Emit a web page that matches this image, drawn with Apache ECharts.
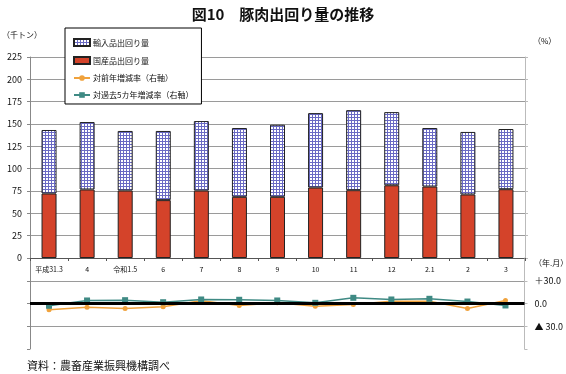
<!DOCTYPE html>
<html><head><meta charset="utf-8">
<script src="https://cdn.jsdelivr.net/npm/echarts@6/dist/echarts.min.js"></script>
<style>html,body{margin:0;padding:0;background:#fff}#c{width:566px;height:374px}</style>
</head><body><div id="c"></div>
<script>
const categories = ['平成31.3','4','令和1.5','6','7','8','9','10','11','12','2.1','2','3'];
const domestic = [72.2, 76.7, 75.5, 64.8, 75.5, 68.5, 68.5, 78.9, 75.9, 81.4, 80.0, 71.1, 77.0];
const imported = [71.1, 75.5, 66.7, 77.4, 77.8, 77.0, 80.7, 83.3, 89.6, 81.9, 65.5, 70.0, 67.4];
const yoy = [-8.4, -4.9, -6.6, -4.4, 3.5, -2.6, 1.0, -3.5, -1.3, 3.0, 3.0, -6.6, 4.0];
const vs5yr = [-3.0, 4.0, 4.4, 1.7, 5.3, 4.9, 4.0, 0.9, 7.5, 5.3, 6.2, 2.6, -2.6];
const leftTicks = [0, 25, 50, 75, 100, 125, 150, 175, 200, 225];
const rightTickLabels = {'30': '＋30.0', '0': '0.0', '-30': '▲ 30.0'};

const FONT = '"Noto Sans CJK JP", "Noto Sans", sans-serif';
const tile = document.createElement('canvas');
tile.width = 3; tile.height = 3;
const g = tile.getContext('2d');
g.fillStyle = '#ffffff'; g.fillRect(0, 0, 3, 3);
g.fillStyle = '#6a6ac4'; g.fillRect(0, 0, 3, 1); g.fillRect(0, 0, 1, 3);
const pattern = {image: tile, repeat: 'repeat'};

const chart = echarts.init(document.getElementById('c'), null, {renderer: 'canvas'});
const gridLine = '#9a9a9a';
chart.setOption({
  animation: false,
  textStyle: {fontFamily: FONT},
  title: {
    text: '図10　豚肉出回り量の推移', left: 'center', top: 2,
    textStyle: {fontSize: 15, fontWeight: 'bold', color: '#111', fontFamily: FONT}
  },
  legend: {
    orient: 'vertical', left: 65, top: 28,
    padding: [10, 8, 5, 8], itemGap: 9, itemWidth: 16, itemHeight: 7,
    backgroundColor: '#fff', borderColor: '#000', borderWidth: 1,
    textStyle: {fontSize: 8, color: '#111', fontFamily: FONT, padding: [0, 0, 0, -2]},
    data: [
      {name: '輸入品出回り量', icon: 'rect'},
      {name: '国産品出回り量', icon: 'rect'},
      '対前年増減率（右軸）', '対過去5カ年増減率（右軸）'
    ]
  },
  grid: [
    {left: 30, right: 41, top: 57, height: 201},
    {left: 30, right: 41, top: 258, height: 91}
  ],
  xAxis: [
    {type: 'category', gridIndex: 0, data: categories,
     axisLine: {lineStyle: {color: '#555'}},
     axisTick: {show: true, length: 3, lineStyle: {color: '#555'}},
     axisLabel: {fontSize: 7, color: '#111', margin: 8, interval: 0}},
    {type: 'category', gridIndex: 1, data: categories,
     axisLine: {show: false}, axisTick: {show: false}, axisLabel: {show: false}}
  ],
  yAxis: [
    {type: 'value', gridIndex: 0, min: 0, max: 225, interval: 25,
     axisLine: {show: true, lineStyle: {color: '#888'}},
     axisTick: {show: true, length: 3, lineStyle: {color: '#888'}},
     axisLabel: {fontSize: 9, color: '#111', margin: 8,
       formatter: v => leftTicks.includes(v) ? String(v) : ''},
     splitLine: {lineStyle: {color: gridLine}}},
    {type: 'value', gridIndex: 0, position: 'right', min: 0, max: 225, interval: 25,
     axisLine: {show: true, lineStyle: {color: '#bbb'}},
     axisTick: {show: true, length: 3, lineStyle: {color: '#bbb'}},
     axisLabel: {show: false}, splitLine: {show: false}},
    {type: 'value', gridIndex: 1, position: 'left', min: -60, max: 60, interval: 30,
     axisLine: {show: true, lineStyle: {color: '#888'}},
     axisTick: {show: true, length: 3, lineStyle: {color: '#888'}},
     axisLabel: {show: false},
     splitLine: {lineStyle: {color: ['rgba(0,0,0,0)', gridLine, gridLine, gridLine, 'rgba(0,0,0,0)']}}},
    {type: 'value', gridIndex: 1, position: 'right', min: -60, max: 60, interval: 30,
     axisLine: {show: true, lineStyle: {color: '#bbb'}},
     axisTick: {show: true, length: 3, lineStyle: {color: '#bbb'}},
     axisLabel: {fontSize: 9, color: '#111', margin: 10,
       formatter: v => rightTickLabels[String(v)] || ''},
     splitLine: {show: false}}
  ],
  series: [
    {name: '国産品出回り量', type: 'bar', stack: 'a', xAxisIndex: 0, yAxisIndex: 0,
     data: domestic, barWidth: 15,
     itemStyle: {color: '#d4432a', borderColor: '#222', borderWidth: 1}},
    {name: '輸入品出回り量', type: 'bar', stack: 'a', xAxisIndex: 0, yAxisIndex: 0,
     data: imported, barWidth: 15,
     itemStyle: {color: pattern, borderColor: '#222', borderWidth: 1}},
    {name: '対前年増減率（右軸）', type: 'line', xAxisIndex: 1, yAxisIndex: 3,
     data: yoy, symbol: 'circle', symbolSize: 5,
     lineStyle: {color: '#f0a23c', width: 1.5}, itemStyle: {color: '#f0a23c'},
     markLine: {silent: true, symbol: 'none', label: {show: false},
       lineStyle: {color: '#000', width: 3, type: 'solid'}, data: [{yAxis: 0}]}},
    {name: '対過去5カ年増減率（右軸）', type: 'line', xAxisIndex: 1, yAxisIndex: 3,
     data: vs5yr, symbol: 'rect', symbolSize: 6,
     lineStyle: {color: '#3f8a84', width: 1.5}, itemStyle: {color: '#3f8a84'}}
  ],
  graphic: [
    {type: 'text', left: 2, top: 31, style: {text: '（千トン）', fontSize: 8, fill: '#111', fontFamily: FONT}},
    {type: 'text', left: 533, top: 37, style: {text: '（%）', fontSize: 8, fill: '#111', fontFamily: FONT}},
    {type: 'text', left: 534, top: 259, style: {text: '（年.月）', fontSize: 8, fill: '#111', fontFamily: FONT}},
    {type: 'text', left: 27, top: 360, style: {text: '資料：農畜産業振興機構調べ', fontSize: 11, fill: '#111', fontFamily: FONT}}
  ]
});
</script></body></html>
